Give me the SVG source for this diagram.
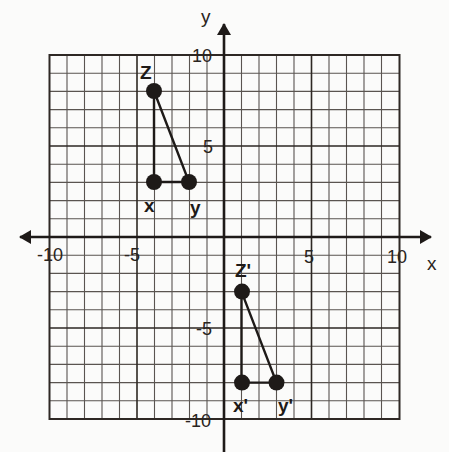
<svg xmlns="http://www.w3.org/2000/svg" width="449" height="452" viewBox="0 0 449 452">
<defs>
<style>
.minor{stroke:#5a5450;stroke-width:1.1;fill:none}
.major{stroke:#2e2824;stroke-width:1.6;fill:none}
.axis{stroke:#1e1a18;stroke-width:2.6;fill:none}
.edge{stroke:#1e1a18;stroke-width:2.4;fill:none}
.dot{fill:#1e1a18}
.num{font-family:"Liberation Sans",Arial,sans-serif;font-size:18px;fill:#2a2420}
.lbl{font-family:"Liberation Sans",Arial,sans-serif;font-size:19px;font-weight:bold;fill:#1e1a18}
.ax{font-family:"Liberation Sans",Arial,sans-serif;font-size:19px;fill:#2a2420}
</style>
<marker id="ah" viewBox="0 0 12 14" refX="11" refY="7" markerWidth="12" markerHeight="14" markerUnits="userSpaceOnUse" orient="auto-start-reverse">
<path d="M0,0 L12,7 L0,14 Z" fill="#1e1a18"/>
</marker>
</defs>
<rect width="449" height="452" fill="#fbfbfa"/>
<g id="grid">
<path class="minor" d="M67,55V419M84.5,55V419M102,55V419M119.5,55V419M154.5,55V419M172,55V419M189.5,55V419M207,55V419M241.5,55V419M259,55V419M276.5,55V419M294,55V419M329,55V419M346.5,55V419M364,55V419M381.5,55V419"/>
<path class="minor" d="M49.5,73.2H399.5M49.5,91.4H399.5M49.5,109.6H399.5M49.5,127.8H399.5M49.5,164.2H399.5M49.5,182.4H399.5M49.5,200.6H399.5M49.5,218.8H399.5M49.5,255.2H399.5M49.5,273.4H399.5M49.5,291.6H399.5M49.5,309.8H399.5M49.5,346.2H399.5M49.5,364.4H399.5M49.5,382.6H399.5M49.5,400.8H399.5"/>
<path class="major" d="M137,55V419M311.5,55V419M49.5,146H399.5M49.5,328H399.5"/>
<rect class="major" x="49.5" y="55" width="350" height="364" style="stroke-width:2"/>
</g>
<g id="axes">
<line class="axis" x1="20" y1="237" x2="431" y2="237" marker-start="url(#ah)" marker-end="url(#ah)"/>
<line class="axis" x1="224" y1="24" x2="224" y2="452" marker-start="url(#ah)"/>
<text class="ax" x="201" y="23">y</text>
<text class="ax" x="427" y="270">x</text>
</g>
<g id="ticks">
<text class="num" x="37" y="261">-10</text>
<text class="num" x="124" y="261">-5</text>
<text class="num" x="304" y="263">5</text>
<text class="num" x="387" y="263">10</text>
<text class="num" x="192" y="62">10</text>
<text class="num" x="203" y="153">5</text>
<text class="num" x="196" y="335">-5</text>
<text class="num" x="185" y="427">-10</text>
</g>
<g id="connectors">
<path class="edge" d="M154,91L154,182L189,182Z"/>
<path class="edge" d="M241.5,291.6L241.5,382.6L276.5,382.6Z"/>
</g>
<g id="node-Z"><circle class="dot" cx="154" cy="91" r="8"/><text class="lbl" x="140" y="79">Z</text></g>
<g id="node-X"><circle class="dot" cx="154" cy="182" r="8"/><text class="lbl" x="144" y="212">x</text></g>
<g id="node-Y"><circle class="dot" cx="189" cy="182" r="8"/><text class="lbl" x="190" y="214">y</text></g>
<g id="node-Z1"><circle class="dot" cx="242" cy="291.6" r="8"/><text class="lbl" x="235" y="277">Z'</text></g>
<g id="node-X1"><circle class="dot" cx="242" cy="382.6" r="8"/><text class="lbl" x="233" y="412">x'</text></g>
<g id="node-Y1"><circle class="dot" cx="276.5" cy="382.6" r="8"/><text class="lbl" x="278" y="412">y'</text></g>
</svg>
